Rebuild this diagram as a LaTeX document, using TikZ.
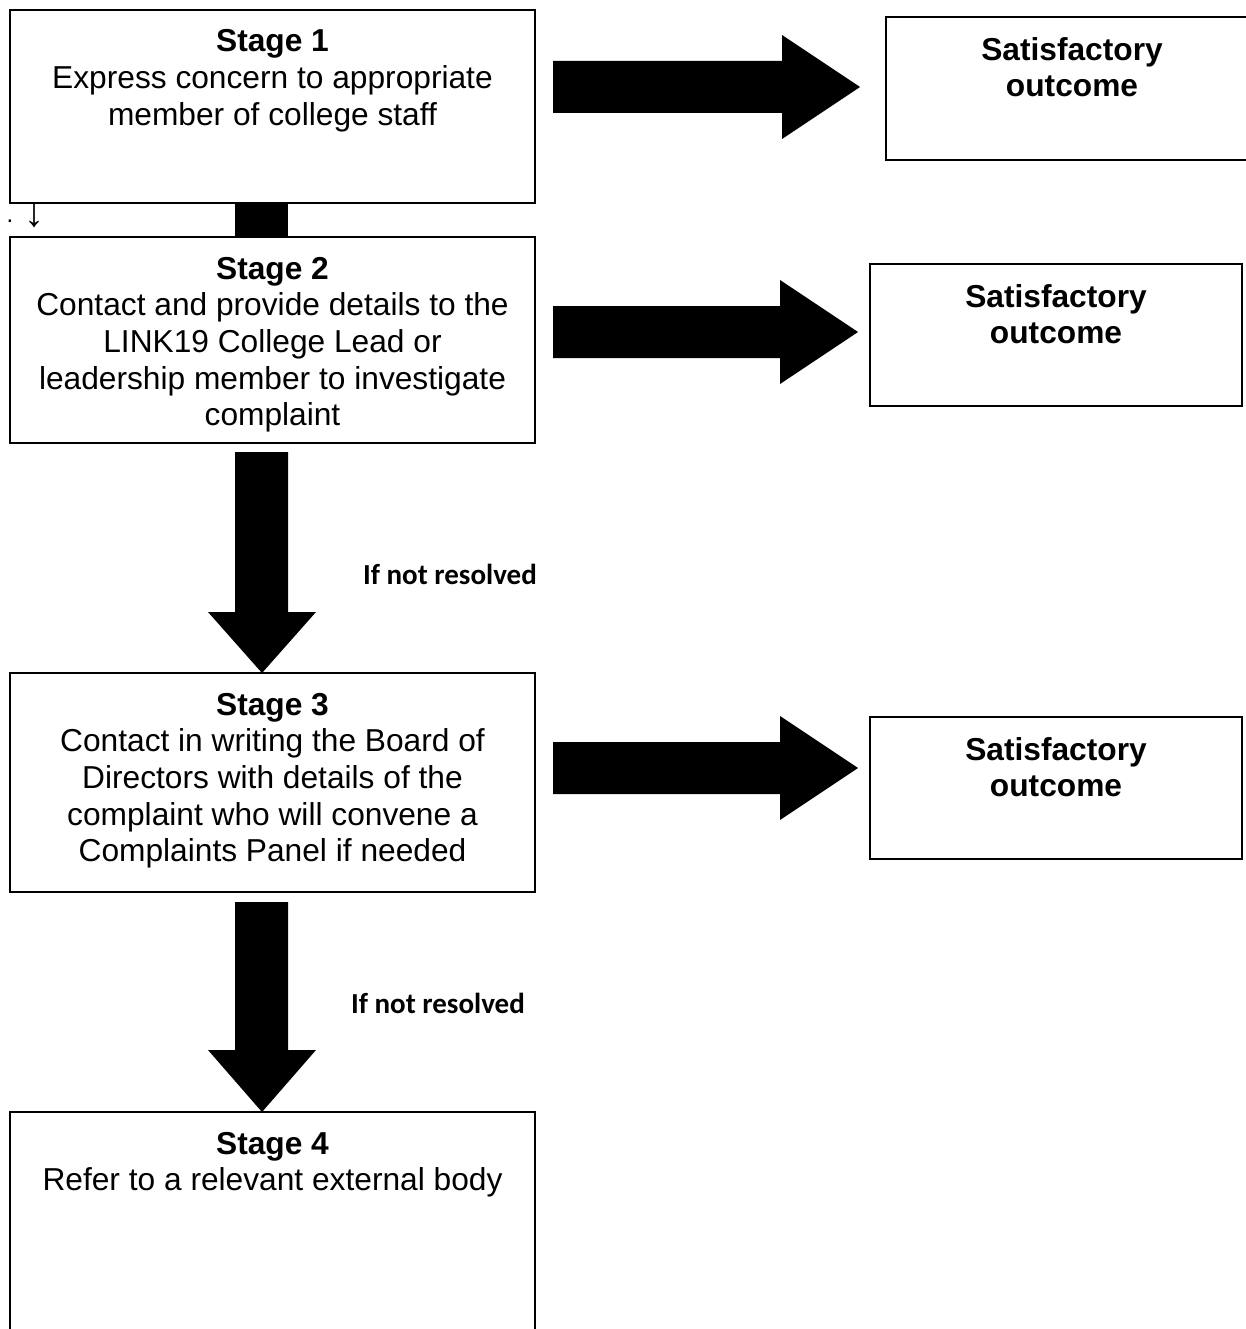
\documentclass[tikz,border=0pt]{standalone}
\usepackage{fontspec}
\setmainfont{Liberation Sans}
\newfontfamily\calibrifont{Carlito}
\begin{document}
\begin{tikzpicture}[x=1pt,y=-1pt,
  box/.style={draw=black,line width=1.5pt,inner sep=0pt,rectangle},
  txt/.style={align=center,inner sep=0pt,anchor=north,font=\fontsize{31.7}{36.6}\selectfont},
  sat/.style={align=center,inner sep=0pt,anchor=north,font=\bfseries\fontsize{31.7}{36.6}\selectfont},
  lbl/.style={font=\calibrifont\bfseries\fontsize{29}{34}\selectfont,inner sep=0pt},
  blk/.style={fill=black}]
\useasboundingbox (0,0) rectangle (1246,1329);
\clip (0,0) rectangle (1246,1329);

% boxes
\node[box,minimum width=525pt,minimum height=193pt] (s1) at (272.5,106.5) {};
\node[box,minimum width=525pt,minimum height=206pt] (s2) at (272.5,340) {};
\node[box,minimum width=525pt,minimum height=219pt] (s3) at (272.5,782.5) {};
\node[box,minimum width=525pt,minimum height=248pt] (s4) at (272.5,1236) {};
\node[box,minimum width=372pt,minimum height=143pt] (o1) at (1072,88.5) {};
\node[box,minimum width=372pt,minimum height=142pt] (o2) at (1056,335) {};
\node[box,minimum width=372pt,minimum height=142pt] (o3) at (1056,788) {};

% texts
\node[txt] (t1) at (272.5,29.5) {\textbf{Stage 1}\\Express concern to appropriate\\member of college staff};
\node[txt] (t2) at (272.5,257) {\textbf{Stage 2}\\Contact and provide details to the\\LINK19 College Lead or\\leadership member to investigate\\complaint};
\node[txt] (t3) at (272.5,693) {\textbf{Stage 3}\\Contact in writing the Board of\\Directors with details of the\\complaint who will convene a\\Complaints Panel if needed};
\node[txt] (t4) at (272.5,1132) {\textbf{Stage 4}\\Refer to a relevant external body};
\node[sat] (r1) at (1072,37) {Satisfactory\\outcome};
\node[sat] (r2) at (1056,284) {Satisfactory\\outcome};
\node[sat] (r3) at (1056,737) {Satisfactory\\outcome};

% right block arrows
\fill[blk] (553,61) -- (782,61) -- (782,35) -- (860,87) -- (782,139) -- (782,113) -- (553,113) -- cycle;
\fill[blk] (553,306) -- (780,306) -- (780,280) -- (858,332) -- (780,384) -- (780,358) -- (553,358) -- cycle;
\fill[blk] (553,742) -- (780,742) -- (780,716) -- (858,768) -- (780,820) -- (780,794) -- (553,794) -- cycle;

% connector between stage 1 and 2
\fill[blk] (235,204) rectangle (288,237);

% down block arrows
\fill[blk] (235,452) -- (288,452) -- (288,612) -- (316,612) -- (262,673) -- (208,612) -- (235,612) -- cycle;
\fill[blk] (235,902) -- (288,902) -- (288,1050) -- (316,1050) -- (262,1112) -- (208,1050) -- (235,1050) -- cycle;

% labels
\node[lbl] (l1) at (450,574) {If not resolved};
\node[lbl] (l2) at (438,1003) {If not resolved};

% stray mark
\node[inner sep=0pt,anchor=base,font=\fontsize{24}{28}\selectfont] (dot) at (10,223) {.};
\node[inner sep=0pt,font=\fontsize{40}{44}\selectfont] (arr) at (34,216) {↓};
\end{tikzpicture}
\end{document}
